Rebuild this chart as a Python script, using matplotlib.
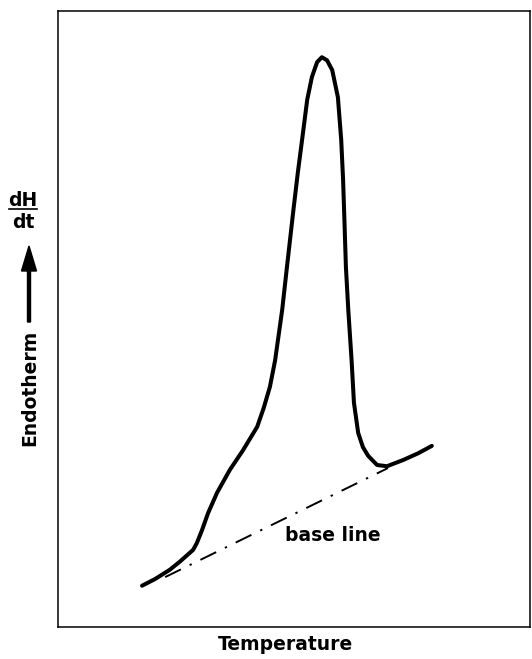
"""
DSC-style thermogram: endothermic peak drawn over a sloping base line.
"""

import matplotlib
matplotlib.use('Agg')
import matplotlib.pyplot as plt
from matplotlib.lines import Line2D

# ------------------------------------------------------------
# Trace (arbitrary units: temperature 0-100, dH/dt 0-100)
# ------------------------------------------------------------
temperature = [17.8, 20.6, 23.7, 25.8, 28.6, 29.4, 30.5, 31.8, 33.7, 36.4,
               39.2, 42.2, 43.6, 44.9, 46.0, 47.5, 48.5, 49.8, 50.8, 51.9,
               52.8, 53.8, 54.9, 55.9, 57.0, 58.1, 59.3, 60.0, 60.4, 60.7,
               61.0, 61.5, 62.2, 62.7, 63.6, 64.6, 65.7, 67.6, 69.7, 73.1,
               76.3, 79.2]
heat_flow = [6.7, 7.8, 9.3, 10.6, 12.5, 13.6, 15.7, 18.5, 21.8, 25.5,
             28.7, 32.5, 35.6, 39.0, 43.3, 51.5, 58.4, 67.2, 73.7, 80.2,
             85.6, 89.3, 91.7, 92.5, 92.0, 90.4, 86.0, 79.1, 72.6, 65.6,
             58.4, 51.5, 43.3, 36.4, 31.5, 29.2, 27.8, 26.3, 26.1, 27.1,
             28.2, 29.4]

# straight base line under the peak
base_T = [22.7, 69.9]
base_H = [8.1, 25.8]

FONT = 'DejaVu Sans'
FS = 13.5

fig = plt.figure(figsize=(5.32, 6.59), dpi=100)
ax = fig.add_axes([58 / 532, 1 - 627 / 659, 472 / 532, 616 / 659])

ax.plot(temperature, heat_flow, color='black', lw=2.9,
        solid_joinstyle='round', solid_capstyle='round')
ax.plot(base_T, base_H, color='black', lw=1.4,
        dashes=(9, 5, 1.2, 5))

ax.text(58.3, 14.9, 'base line', fontsize=FS, fontweight='bold',
        family=FONT, ha='center', va='center')

ax.set_xlim(0, 100)
ax.set_ylim(0, 100)
ax.set_xticks([])
ax.set_yticks([])
for s in ax.spines.values():
    s.set_linewidth(1.1)

# ------------------------------------------------------------
# Axis labels
# ------------------------------------------------------------
fig.text(285 / 532, 1 - 645 / 659, 'Temperature', fontsize=FS,
         fontweight='bold', family=FONT, ha='center', va='center')

fig.text(30 / 532, 1 - 388 / 659, 'Endotherm', fontsize=FS,
         fontweight='bold', family=FONT, rotation=90,
         ha='center', va='center')

# upward arrow above "Endotherm"
fig.patches.append(matplotlib.patches.FancyArrow(
    29 / 532, 1 - 322 / 659, 0, (322 - 246) / 659,
    width=3 / 532, head_width=15 / 532, head_length=25 / 659,
    length_includes_head=True, color='black',
    transform=fig.transFigure, figure=fig))

# dH/dt written as a stacked fraction
fig.text(23 / 532, 1 - 200 / 659, 'dH', fontsize=FS, fontweight='bold',
         family=FONT, ha='center', va='center')
fig.lines.append(Line2D([9 / 532, 37 / 532], [1 - 209 / 659, 1 - 209 / 659],
                        color='black', lw=1.2, transform=fig.transFigure))
fig.text(23 / 532, 1 - 222 / 659, 'dt', fontsize=FS, fontweight='bold',
         family=FONT, ha='center', va='center')

fig.savefig('out.png', dpi=100)
